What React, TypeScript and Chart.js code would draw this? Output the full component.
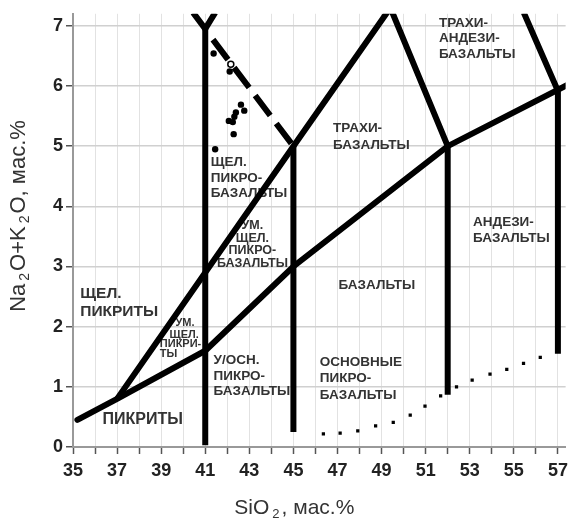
import React, { useEffect, useRef } from 'react';
import { Chart, registerables } from 'chart.js';
Chart.register(...registerables);

// ---- data ----
const samplePoints = [
  { x: 41.38, y: 6.54 }, { x: 42.11, y: 6.24 }, { x: 42.62, y: 5.69 }, { x: 42.77, y: 5.59 },
  { x: 42.39, y: 5.56 }, { x: 42.32, y: 5.49 }, { x: 42.07, y: 5.42 }, { x: 42.25, y: 5.40 },
  { x: 42.29, y: 5.20 }, { x: 41.45, y: 4.95 },
];
const hollowPoints = [{ x: 42.16, y: 6.36 }];

const lowerBoundary = [
  { x: 35.2, y: 0.45 }, { x: 37, y: 0.8 }, { x: 41, y: 1.6 }, { x: 45, y: 3.0 }, { x: 52, y: 5.0 }, { x: 57.45, y: 6.02 },
];
const alkalineBoundary = [
  { x: 37, y: 0.8 }, { x: 45, y: 5.0 }, { x: 49.4, y: 7.3 }, { x: 52, y: 5.0 },
];
const rightBoundary = [{ x: 55.45, y: 7.22 }, { x: 57, y: 5.92 }, { x: 57, y: 1.55 }];
const line52 = [{ x: 52, y: 5.0 }, { x: 52, y: 0.87 }];
const line45 = [{ x: 45, y: 5.0 }, { x: 45, y: 0.25 }];
const line41V = [{ x: 40.45, y: 7.22 }, { x: 41, y: 6.95 }, { x: 41.45, y: 7.22 }];
const line41 = [{ x: 41, y: 6.95 }, { x: 41, y: 0.03 }];
const dashedBoundary = [{ x: 41.35, y: 6.77 }, { x: 45, y: 5.0 }];
const dottedBoundary = [
  { x: 46.36, y: 0.22 }, { x: 47.12, y: 0.23 }, { x: 47.92, y: 0.27 }, { x: 48.73, y: 0.35 },
  { x: 49.53, y: 0.41 }, { x: 50.30, y: 0.53 }, { x: 50.97, y: 0.68 }, { x: 51.68, y: 0.85 },
  { x: 52.40, y: 1.00 }, { x: 53.11, y: 1.11 }, { x: 53.92, y: 1.21 }, { x: 54.68, y: 1.29 },
  { x: 55.44, y: 1.39 }, { x: 56.20, y: 1.49 },
];

const xMin = 35, xMax = 57.35, yMin = 0, yMax = 7.2;

// region labels (anchored in data coordinates)
const regionLabels = [
  { lines: ['ТРАХИ-', 'АНДЕЗИ-', 'БАЗАЛЬТЫ'], x: 51.6, y: 7.05, size: 13.5, lh: 15.5, align: 'left' },
  { lines: ['ТРАХИ-', 'БАЗАЛЬТЫ'], x: 46.8, y: 5.29, size: 13.5, lh: 17, align: 'left' },
  { lines: ['ЩЕЛ.', 'ПИКРО-', 'БАЗАЛЬТЫ'], x: 41.25, y: 4.73, size: 13.5, lh: 15.5, align: 'left' },
  { lines: ['УМ.', 'ЩЕЛ.', 'ПИКРО-', 'БАЗАЛЬТЫ'], x: 43.14, y: 3.68, size: 12.5, lh: 12.7, align: 'center' },
  { lines: ['АНДЕЗИ-', 'БАЗАЛЬТЫ'], x: 53.15, y: 3.73, size: 13.5, lh: 16, align: 'left' },
  { lines: ['БАЗАЛЬТЫ'], x: 47.05, y: 2.69, size: 13.5, lh: 16, align: 'left' },
  { lines: ['ЩЕЛ.', 'ПИКРИТЫ'], x: 35.33, y: 2.55, size: 15.5, lh: 18, align: 'left' },
  { lines: ['УМ.'], x: 39.65, y: 2.06, size: 11, lh: 10, align: 'left' },
  { lines: ['ЩЕЛ.'], x: 39.38, y: 1.87, size: 11, lh: 10, align: 'left' },
  { lines: ['ПИКРИ-'], x: 38.94, y: 1.71, size: 11, lh: 10, align: 'left' },
  { lines: ['ТЫ'], x: 38.94, y: 1.54, size: 11, lh: 10, align: 'left' },
  { lines: ['У/ОСН.', 'ПИКРО-', 'БАЗАЛЬТЫ'], x: 41.38, y: 1.44, size: 13.5, lh: 15.5, align: 'left' },
  { lines: ['ОСНОВНЫЕ', 'ПИКРО-', 'БАЗАЛЬТЫ'], x: 46.2, y: 1.41, size: 13.5, lh: 16.5, align: 'left' },
  { lines: ['ПИКРИТЫ'], x: 36.34, y: 0.46, size: 16, lh: 16, align: 'left' },
];

const xTitle = [{ t: 'SiO' }, { t: '2', sub: true }, { t: ', мас.%' }];
const yTitle = [{ t: 'Na' }, { t: '2', sub: true }, { t: 'O+K' }, { t: '2', sub: true }, { t: 'O, мас.%' }];

const FONT = '"Liberation Sans", Arial, sans-serif';

function drawRich(ctx: CanvasRenderingContext2D, parts: any[], cx: number, cy: number, rot: boolean, size: number) {
  ctx.save();
  ctx.translate(cx, cy);
  if (rot) ctx.rotate(-Math.PI / 2);
  const mainFont = `${size}px ${FONT}`;
  const subFont = `${Math.round(size * 0.62)}px ${FONT}`;
  let total = 0;
  const widths = parts.map((p) => {
    ctx.font = p.sub ? subFont : mainFont;
    const w = ctx.measureText(p.t).width + (p.sub ? 5 : 0);
    total += w;
    return w;
  });
  let x = -total / 2;
  ctx.textBaseline = 'middle';
  ctx.textAlign = 'left';
  ctx.fillStyle = '#333';
  parts.forEach((p, i) => {
    ctx.font = p.sub ? subFont : mainFont;
    ctx.fillText(p.t, x + (p.sub ? 3 : 0), p.sub ? 6 : 0);
    x += widths[i];
  });
  ctx.restore();
}

const labelPlugin = {
  id: 'regionLabels',
  beforeDatasetsDraw(chart: any) {
    const { ctx, scales } = chart;
    regionLabels.forEach((l) => {
      const px = scales.x.getPixelForValue(l.x);
      const py = scales.y.getPixelForValue(l.y);
      ctx.save();
      ctx.font = `bold ${l.size}px ${FONT}`;
      ctx.fillStyle = '#333';
      ctx.textBaseline = 'middle';
      ctx.textAlign = l.align;
      l.lines.forEach((s, i) => ctx.fillText(s, px, py + i * l.lh));
      ctx.restore();
    });
  },
  afterDraw(chart: any) {
    const { ctx, chartArea } = chart;
    drawRich(ctx, xTitle, (chartArea.left + chartArea.right) / 2 - 25, 508, false, 21);
    drawRich(ctx, yTitle, 19, 216, true, 22);
  },
};

function lineDs(data: any[], extra: any = {}) {
  return {
    type: 'line',
    data,
    showLine: true,
    borderColor: '#000',
    borderWidth: 6,
    pointRadius: 0,
    pointHoverRadius: 0,
    fill: false,
    tension: 0,
    clip: 0,
    borderCapStyle: 'butt',
    borderJoinStyle: 'miter',
    ...extra,
  };
}

export default function App() {
  const ref = useRef<HTMLCanvasElement | null>(null);
  useEffect(() => {
    if (!ref.current) return;
    const chart = new Chart(ref.current, {
      type: 'scatter',
      data: {
        datasets: [
          { type: 'scatter', data: samplePoints, pointRadius: 3.2, pointBackgroundColor: '#000', pointBorderColor: '#000', pointBorderWidth: 0 },
          { type: 'scatter', data: hollowPoints, pointRadius: 3, pointBackgroundColor: '#fff', pointBorderColor: '#000', pointBorderWidth: 1.5 },
          { type: 'scatter', data: dottedBoundary, pointStyle: 'rect', pointRadius: 2.3, pointBackgroundColor: '#000', pointBorderWidth: 0 },
          lineDs(dashedBoundary, { borderDash: [25, 10] }),
          lineDs(lowerBoundary, { borderCapStyle: 'round' }),
          lineDs(alkalineBoundary),
          lineDs(rightBoundary),
          lineDs(line52),
          lineDs(line45),
          lineDs(line41V),
          lineDs(line41),
        ] as any,
      },
      options: {
        animation: false,
        responsive: true,
        maintainAspectRatio: false,
        events: [],
        layout: { padding: { top: 13, right: 1, left: 0, bottom: 0 } },
        plugins: { legend: { display: false }, tooltip: { enabled: false }, title: { display: false } },
        scales: {
          x: {
            type: 'linear',
            min: xMin,
            max: xMax,
            afterFit: (s: any) => { s.height = 75; },
            grid: { color: '#e2e2e2', lineWidth: 1, tickColor: '#555', tickLength: 7, tickWidth: 1.5 },
            border: { color: '#999', width: 2 },
            ticks: {
              stepSize: 1,
              includeBounds: false,
              autoSkip: false,
              maxRotation: 0,
              padding: 6,
              color: '#222',
              font: { family: FONT, size: 18, weight: 'bold' },
              callback: (v: any) => (Math.round(v) % 2 === 1 ? String(v) : ''),
            },
          },
          y: {
            type: 'linear',
            min: yMin,
            max: yMax,
            afterFit: (s: any) => { s.width = 73; },
            grid: { color: '#d0d0d0', lineWidth: 1.5, tickColor: '#555', tickLength: 7, tickWidth: 1.5 },
            border: { color: '#999', width: 2 },
            ticks: {
              stepSize: 1,
              includeBounds: false,
              padding: 3,
              color: '#222',
              font: { family: FONT, size: 18, weight: 'bold' },
            },
          },
        },
      } as any,
      plugins: [labelPlugin],
    });
    return () => chart.destroy();
  }, []);
  return (
    <div style={{ position: 'absolute', left: 0, top: 0, width: 574, height: 522, background: '#fff' }}>
      <canvas ref={ref} />
    </div>
  );
}
